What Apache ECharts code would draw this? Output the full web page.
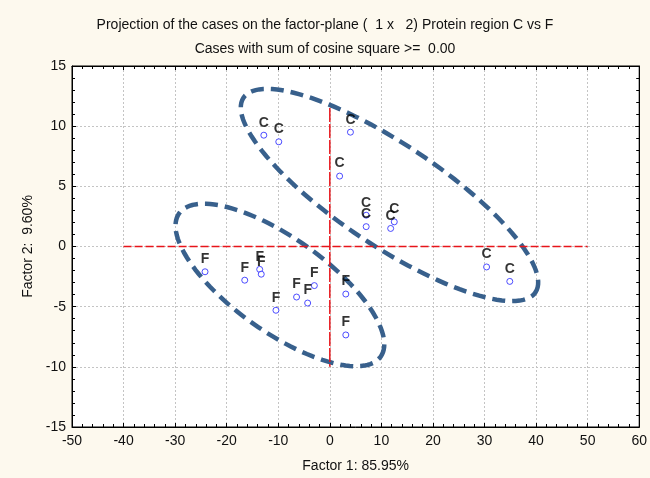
<!DOCTYPE html>
<html>
<head>
<meta charset="utf-8">
<title>Projection</title>
<script src="https://cdn.jsdelivr.net/npm/echarts@6/dist/echarts.min.js"></script>
<style>
html, body { margin: 0; background: #fdf9ee; }
#chart { width: 650px; height: 478px; }
</style>
</head>
<body>
<div id="chart"></div>
<script>
var casesC = [[-12.8, 9.25], [-9.9, 8.7], [4.0, 9.5], [1.9, 5.85], [7.05, 2.6], [7.05, 1.65],
              [12.5, 2.05], [11.8, 1.5], [30.4, -1.7], [34.9, -2.9]];
var casesF = [[-24.2, -2.1], [-16.5, -2.8], [-13.6, -1.9], [-13.3, -2.3], [-10.45, -5.3],
              [-6.45, -4.2], [-4.3, -4.7], [-3.0, -3.25], [3.1, -3.95], [3.1, -7.35]];
// ellipse: centre x, centre y, semi-axis 1 (dx, dy), semi-axis 2 (dx, dy) in data units
var ellipseC = [11.57, 4.28, 28.32, -8.08, 5.45, 3.53];
var ellipseF = [-9.68, -3.2, 19.55, -5.95, 5.25, 3.19];
var hLine = [[-40, 0], [50, 0]];
var vLine = [[0, 11.5], [0, -10]];

var font = 'Liberation Sans, Arial, sans-serif';
var myChart = echarts.init(document.getElementById('chart'));

function drawEllipse(params, api) {
    var cx = api.value(0), cy = api.value(1);
    var ux = api.value(2), uy = api.value(3);
    var vx = api.value(4), vy = api.value(5);
    var pts = [];
    for (var i = 0; i < 120; i++) {
        var t = i / 120 * Math.PI * 2;
        pts.push(api.coord([cx + ux * Math.cos(t) + vx * Math.sin(t),
                            cy + uy * Math.cos(t) + vy * Math.sin(t)]));
    }
    return {
        type: 'polygon',
        shape: { points: pts },
        style: { fill: null, stroke: '#38608c', lineWidth: 4.5, lineDash: [13, 7] }
    };
}

function axisBase(pos, min, max, interval, showLabel) {
    return {
        type: 'value', position: pos, min: min, max: max, interval: interval,
        axisLine: { show: true, onZero: false, lineStyle: { color: '#000', width: 1 } },
        axisTick: { show: true, inside: true, length: 4, lineStyle: { color: '#000' } },
        minorTick: { show: true, splitNumber: 5, length: 3, lineStyle: { color: '#000' } },
        axisLabel: { show: showLabel, color: '#111', fontFamily: font, fontSize: 14 },
        splitLine: { show: showLabel, lineStyle: { color: '#c4c4c4', type: [2, 2] } }
    };
}

var xMain = axisBase('bottom', -50, 60, 10, true);
xMain.name = 'Factor 1: 85.95%';
xMain.nameLocation = 'middle';
xMain.nameGap = 32;
xMain.nameTextStyle = { color: '#111', fontFamily: font, fontSize: 14 };
xMain.axisLabel.margin = 7;

var yMain = axisBase('left', -15, 15, 5, true);
yMain.name = 'Factor 2:  9.60%';
yMain.nameLocation = 'middle';
yMain.nameGap = 29;
yMain.nameTextStyle = { color: '#111', fontFamily: font, fontSize: 14 };
yMain.axisLabel.margin = 6;

var labelStyle = { show: true, position: 'top', distance: 2,
                   fontFamily: font, fontSize: 14, fontWeight: 'bold', color: '#000' };

option = {
    animation: false,
    backgroundColor: '#fdf9ee',
    title: [{
        text: 'Projection of the cases on the factor-plane (  1 x   2) Protein region C vs F',
        left: 'center', top: 13,
        textStyle: { fontFamily: font, fontSize: 14, fontWeight: 'normal', color: '#111' }
    }, {
        text: 'Cases with sum of cosine square >=  0.00',
        left: 'center', top: 37,
        textStyle: { fontFamily: font, fontSize: 14, fontWeight: 'normal', color: '#111' }
    }],
    grid: {
        left: 72, right: 9, top: 66, bottom: 51,
        show: true, backgroundColor: '#fff', borderColor: '#000', borderWidth: 1
    },
    xAxis: [xMain, axisBase('top', -50, 60, 10, false)],
    yAxis: [yMain, axisBase('right', -15, 15, 5, false)],
    series: [{
        type: 'line', data: hLine, symbol: 'none',
        lineStyle: { color: '#e8141a', width: 1.5, type: [8, 3] }
    }, {
        type: 'line', data: vLine, symbol: 'none',
        lineStyle: { color: '#e8141a', width: 1.5, type: [14, 2] }
    }, {
        type: 'custom', renderItem: drawEllipse, data: [ellipseC, ellipseF]
    }, {
        name: 'C', type: 'scatter', data: casesC,
        symbol: 'circle', symbolSize: 6,
        itemStyle: { color: '#fff', borderColor: '#2222ff', borderWidth: 1 },
        label: Object.assign({ formatter: 'C' }, labelStyle)
    }, {
        name: 'F', type: 'scatter', data: casesF,
        symbol: 'circle', symbolSize: 6,
        itemStyle: { color: '#fff', borderColor: '#2222ff', borderWidth: 1 },
        label: Object.assign({ formatter: 'F' }, labelStyle)
    }]
};

myChart.setOption(option);
</script>
</body>
</html>
